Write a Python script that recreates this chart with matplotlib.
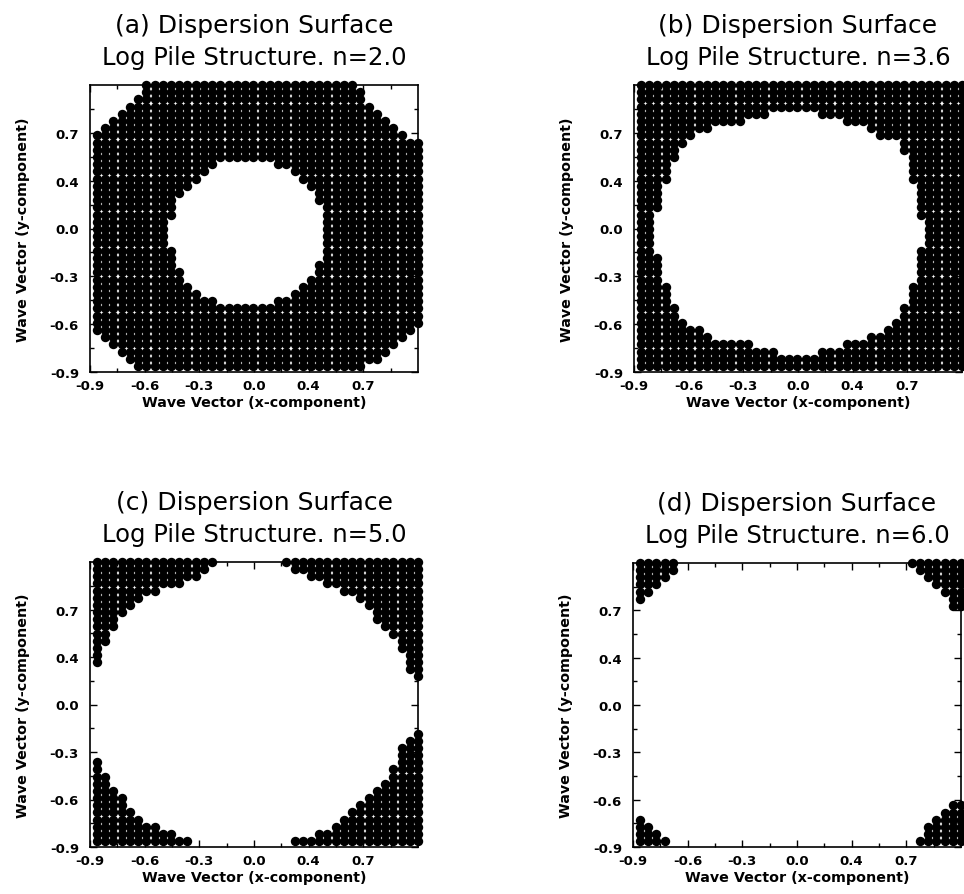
import numpy as np
import matplotlib
matplotlib.use("Agg")
import matplotlib.pyplot as plt

# ---------------- data ----------------
# k-point grid (40 x 40); rows are listed from the top (row 0 = highest ky)
grid_values = np.linspace(-0.86, 1.0, 40)

tick_labels = ["-0.9", "-0.6", "-0.3", "0.0", "0.4", "0.7"]
axis_range = [-0.9, 1.0]

titles = ["(a) Dispersion Surface", "(b) Dispersion Surface",
          "(c) Dispersion Surface", "(d) Dispersion Surface"]
subtitles = ["Log Pile Structure. n=2.0", "Log Pile Structure. n=3.6",
             "Log Pile Structure. n=5.0", "Log Pile Structure. n=6.0"]

# For every row: filled columns are [row_start .. left_end] and [right_start .. row_end]
# (left_end = -1 -> no left run, right_start = 40 -> no right run)
a_row_start = [6, 6, 5, 4, 3, 2, 1] + [0] * 28 + [1, 2, 3, 4, 5]
a_row_end = [31, 32, 32, 33, 34, 35, 36, 37] + [39] * 26 + [38, 37, 36, 35, 34, 32]
a_left_end = [39] * 11 + [14, 13, 12, 11, 10, 9, 9, 9, 8, 8, 8, 8, 9, 9, 9, 10, 10, 11, 12, 14] + [39] * 9
a_right_start = [40] * 11 + [22, 24, 25, 26, 27, 27, 28, 28, 28, 28, 28, 28, 28, 28, 27, 27, 26, 25, 24, 22] + [40] * 9

b_left_end = [39] * 4 + [15, 12, 8, 6, 5, 4, 4, 3, 3, 3, 2, 2, 2, 2, 1, 1, 1, 1, 1, 1,
                         2, 2, 2, 2, 3, 3, 3, 4, 4, 5, 7, 8, 13, 16] + [39] * 2
b_right_start = [40] * 4 + [22, 25, 28, 29, 32, 32, 33, 33, 33, 33, 34, 34, 34, 34, 34, 35,
                            35, 35, 35, 34, 34, 34, 34, 34, 33, 33, 33, 32, 32, 31, 30, 28, 25, 22] + [40] * 2

c_left_end = [14, 13, 12, 10, 7, 5, 4, 3, 2, 2, 1, 1, 0, 0, 0] + [-1] * 13 + \
             [0, 0, 1, 1, 2, 3, 3, 4, 5, 7, 9, 11]
c_right_start = [23, 24, 26, 28, 30, 32, 33, 34, 34, 35, 36, 37, 37, 38, 38, 38, 39] + [40] * 7 + \
                [39, 38, 37, 37, 37, 36, 36, 35, 34, 33, 32, 31, 30, 29, 27, 24]

d_left_end = [4, 4, 3, 2, 1, 0] + [-1] * 30 + [0, 1, 2, 3]
d_right_start = [33, 34, 35, 36, 37, 38, 38] + [40] * 27 + [38, 37, 36, 35, 35, 34]

full_start = [0] * 40
full_end = [39] * 40

panels = [
    (a_row_start, a_left_end, a_right_start, a_row_end),
    (full_start, b_left_end, b_right_start, full_end),
    (full_start, c_left_end, c_right_start, full_end),
    (full_start, d_left_end, d_right_start, full_end),
]

# ---------------- figure ----------------
plt.rcParams['font.family'] = ['DejaVu Sans']
W, H = 964, 895
fig = plt.figure(figsize=(W / 100, H / 100), dpi=100)

# axes boxes in pixels: left, top, right, bottom
boxes = [(90, 86, 418, 373), (634, 86, 962, 373),
         (90, 563, 418, 848), (633, 564, 961, 848)]

major = np.linspace(axis_range[0], axis_range[1], 7)[:6]
minor = np.linspace(axis_range[0], axis_range[1], 13)[1::2]

for i, (box, (rs, le, rst, re)) in enumerate(zip(boxes, panels)):
    l, t, r, b = box
    ax = fig.add_axes([l / W, 1 - b / H, (r - l) / W, (b - t) / H])
    xs, ys = [], []
    for row in range(40):
        y = grid_values[39 - row]
        cols = set(range(rs[row], min(le[row], re[row]) + 1)) | \
            set(range(max(rst[row], rs[row]), re[row] + 1))
        for c in sorted(cols):
            xs.append(grid_values[c])
            ys.append(y)
    ax.scatter(xs, ys, s=46, c='black', linewidths=0, clip_on=False, zorder=3)

    ax.set_xlim(axis_range)
    ax.set_ylim(axis_range)
    ax.set_xticks(major)
    ax.set_xticklabels(tick_labels, fontweight='bold')
    ax.set_yticks(major)
    ax.set_yticklabels(tick_labels, fontweight='bold')
    ax.set_xticks(minor, minor=True)
    ax.set_yticks(minor, minor=True)
    ax.tick_params(which='both', direction='in', top=True, right=True,
                   labelsize=9.5, width=1.0, colors='black')
    ax.tick_params(axis='x', which='major', length=5, pad=5)
    ax.tick_params(axis='y', which='major', length=5, pad=8)
    ax.tick_params(which='minor', length=3)
    for sp in ax.spines.values():
        sp.set_linewidth(1.2)
    ax.set_xlabel("Wave Vector (x-component)", fontsize=10.3, fontweight='bold', labelpad=2)
    ax.set_ylabel("Wave Vector (y-component)", fontsize=10.3, fontweight='bold', labelpad=14)

    cx = (l + r) / 2 / W
    fig.text(cx, 1 - (t - 53) / H, titles[i], ha='center', va='baseline', fontsize=18)
    fig.text(cx, 1 - (t - 21) / H, subtitles[i], ha='center', va='baseline', fontsize=17.5)

fig.savefig("out.png", dpi=100, facecolor='white')
